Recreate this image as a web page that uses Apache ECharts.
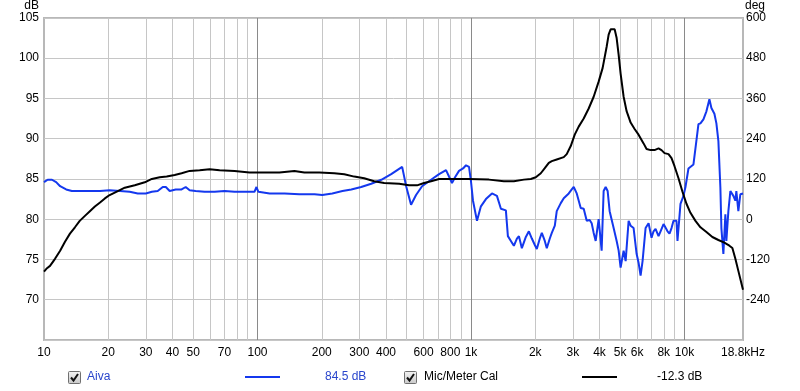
<!DOCTYPE html>
<html><head><meta charset="utf-8">
<script src="https://cdn.jsdelivr.net/npm/echarts@6/dist/echarts.min.js"></script>
<style>html,body{margin:0;padding:0;background:#fff}#c{width:800px;height:391px}</style>
</head><body><div id="c"></div>
<script>
// Aiva SPL response (dB, left axis)
const aivaFreq = [10,10.4,10.9,11.4,11.9,12.7,13.5,14.7,16.4,18.3,20.3,22.7,25.2,27.5,30,32,34.1,36,37.2,38.8,41.4,44.1,46.1,48.1,51.3,56.5,63,70.1,78.1,87,96.8,98.9,101,114,134,157,185,201,224,250,275,306,341,380,423,476,497,524,553,590,650,709,764,789,815,842,879,918,948,979,1000,1022,1067,1113,1175,1254,1323,1381,1457,1489,1538,1588,1641,1677,1731,1807,1867,1928,1991,2034,2101,2147,2217,2265,2340,2391,2470,2522,2634,2720,2871,2965,3029,3129,3266,3373,3485,3597,3676,3756,3838,3963,4093,4182,4274,4367,4462,4658,4812,4917,5022,5188,5302,5475,5595,5777,5967,6095,6230,6364,6574,6790,7013,7164,7320,7560,7726,7980,8153,8331,8510,8697,8885,9175,9275,9579,9893,10108,10440,10666,11017,11257,11627,11881,12268,12671,12946,13086,13371,13810,14110,14418,14731,14891,15215,15546,15714,16056,16406,16945,17314,17498,17880,18270,18800];
const aivaDb = [84.6,84.9,84.9,84.6,84.1,83.7,83.5,83.5,83.5,83.5,83.6,83.5,83.4,83.2,83.2,83.4,83.5,84.0,84.0,83.5,83.7,83.7,84.0,83.6,83.5,83.4,83.4,83.5,83.4,83.4,83.4,84.0,83.4,83.2,83.2,83.1,83.1,83.0,83.2,83.5,83.7,84.0,84.4,84.9,85.6,86.5,84.1,81.8,83.0,84.1,84.9,85.6,86.1,85.3,84.5,85.2,86.0,86.3,86.7,86.5,84.7,82.3,79.8,81.6,82.5,83.2,82.9,81.3,81.1,77.9,77.3,76.7,77.6,77.9,76.4,77.8,78.5,77.6,76.8,76.3,77.6,78.3,77.3,76.4,77.6,78.3,79.2,81.0,82.0,82.6,83.2,83.7,84.0,83.2,81.4,81.3,79.8,79.9,79.5,78.3,77.3,80.0,76.1,83.5,84.0,83.5,81.0,78.9,77.3,76.1,74.0,76.1,74.8,79.8,79.2,78.9,75.7,74.6,73.0,74.8,78.9,79.5,77.7,78.5,78.8,77.9,78.5,79.4,79.4,78.5,78.2,78.9,79.8,79.8,77.3,81.9,82.9,84.0,86.3,86.5,86.8,88.8,91.8,91.9,92.4,93.4,94.4,94.9,93.8,93.1,91.9,89.7,83.9,78.9,75.7,80.6,77.3,81.0,83.5,82.9,82.3,83.5,81.0,83.1,83.2];
// Mic/Meter Cal phase (deg, right axis)
const calFreq = [10,10.33,10.67,11.26,11.9,12.54,13.23,13.96,14.7,15.55,16.4,17.31,18.3,19.28,20.3,22.17,23.9,26.62,29.65,32,34.84,37.56,40.94,44.1,48.1,53.58,59.68,66.45,78.1,91.75,107.8,126.7,148.9,165.8,194.9,229,255,284,316,352,392,461,513,559,603,650,709,833,979,1214,1426,1588,1769,1907,2012,2124,2217,2315,2391,2522,2720,2809,2933,3062,3196,3373,3559,3756,3963,4138,4320,4414,4510,4709,4812,4917,5022,5188,5358,5595,5840,6095,6433,6645,6937,7241,7560,7807,8064,8418,8697,8982,9376,9787,10216,10666,11257,11881,12671,13513,14418,15379,16232,16763,17314,17880,18800];
const calDeg = [-156,-146,-139,-118,-94,-67,-43,-24,-5,10,24,38,50,62,72,84,94,101,110,120,125,127,132,137,144,146,149,146,144,139,139,139,144,139,139,137,134,127,122,113,108,106,101,101,108,113,120,120,120,118,113,113,118,120,125,137,152,168,173,178,185,194,218,252,276,300,330,365,410,451,514,550,566,566,540,490,434,365,322,288,269,252,226,209,206,206,211,206,197,194,182,158,122,82,46,19,-5,-24,-38,-53,-62,-70,-79,-86,-118,-154,-210];

const xLabelValues = [10,20,30,40,50,70,100,200,300,400,600,800,1000,2000,3000,4000,5000,6000,8000,10000,18800];
const xGridValues = [20,30,40,50,60,70,80,90,100,200,300,400,500,600,700,800,900,1000,2000,3000,4000,5000,6000,7000,8000,9000,10000];
const decadeValues = [100,1000,10000];
const legendNames = ['Aiva','Mic/Meter Cal'];
const legendValues = ['84.5 dB','-12.3 dB'];

const BLUE = '#1438ee';
const FONT = 'Liberation Sans, Arial, sans-serif';

function fmtFreq(v){
  if (Math.abs(v-18800) < 1) return '18.8kHz';
  if (v >= 1000) return (Math.round(v/100)/10) + 'k';
  return String(Math.round(v));
}

function checkbox(x, y){
  return [
    {type:'rect', shape:{x:x+0.5,y:y+0.5,width:12,height:12,r:1},
     style:{fill:new echarts.graphic.LinearGradient(0,0,0,1,[{offset:0,color:'#f4f4f4'},{offset:1,color:'#c8c8c8'}]), stroke:'#707070', lineWidth:1}},
    {type:'polyline', shape:{points:[[x+3,y+6.5],[x+5.5,y+9.5],[x+10,y+3]]}, style:{stroke:'#111', lineWidth:2, fill:null}}
  ];
}

const chart = echarts.init(document.getElementById('c'), null, {renderer:'canvas'});
const graphics = [].concat(
  checkbox(68, 371),
  [{type:'text', x:87, y:377, style:{text:legendNames[0], fill:'#2a46cc', font:'12px '+FONT, verticalAlign:'middle'}},
   {type:'line', shape:{x1:245,y1:377,x2:280,y2:377}, style:{stroke:BLUE, lineWidth:2}},
   {type:'text', x:325, y:377, style:{text:legendValues[0], fill:'#2a46cc', font:'12px '+FONT, verticalAlign:'middle'}}],
  checkbox(404, 371),
  [{type:'text', x:424, y:377, style:{text:legendNames[1], fill:'#000', font:'12px '+FONT, verticalAlign:'middle'}},
   {type:'line', shape:{x1:582,y1:377,x2:617,y2:377}, style:{stroke:'#000', lineWidth:2}},
   {type:'text', x:657, y:377, style:{text:legendValues[1], fill:'#000', font:'12px '+FONT, verticalAlign:'middle'}}]
);

chart.setOption({
  animation:false,
  backgroundColor:'#fff',
  textStyle:{fontFamily:FONT},
  grid:{left:44, right:57, top:16, bottom:51, show:true, borderColor:'#b8b8b8', borderWidth:2, backgroundColor:'#fff'},
  xAxis:{
    type:'log', logBase:10, min:10, max:18800,
    axisLine:{show:false},
    axisTick:{show:false, customValues:xGridValues},
    splitLine:{show:true, lineStyle:{color:'#c6c6c6', width:1}},
    axisLabel:{customValues:xLabelValues, formatter:fmtFreq, color:'#000', fontSize:12, margin:7, fontFamily:FONT}
  },
  yAxis:[
    {type:'value', min:65, max:105, interval:5, position:'left',
     name:'dB', nameLocation:'end', nameGap:9,
     nameTextStyle:{color:'#000', fontSize:12, align:'right', verticalAlign:'middle', padding:[0,5,0,0], fontFamily:FONT},
     axisLine:{show:false}, axisTick:{show:false},
     axisLabel:{showMinLabel:false, color:'#000', fontSize:12, margin:5, fontFamily:FONT},
     splitLine:{show:true, lineStyle:{color:'#c6c6c6', width:1}}},
    {type:'value', min:-360, max:600, interval:120, position:'right',
     name:'deg', nameLocation:'end', nameGap:9,
     nameTextStyle:{color:'#000', fontSize:12, align:'left', verticalAlign:'middle', padding:[0,0,0,2], fontFamily:FONT},
     axisLine:{show:false}, axisTick:{show:false},
     axisLabel:{showMinLabel:false, color:'#000', fontSize:12, margin:3, fontFamily:FONT},
     splitLine:{show:false}}
  ],
  series:[
    {name:legendNames[0], type:'line', yAxisIndex:0, showSymbol:false, symbol:'none',
     data:aivaFreq.map((f,i)=>[f, aivaDb[i]]),
     lineStyle:{color:BLUE, width:2}, itemStyle:{color:BLUE}, z:3,
     markLine:{silent:true, symbol:'none', z:1, animation:false, label:{show:false},
       lineStyle:{color:'#8a8a8a', width:1, type:'solid'},
       data:decadeValues.map(v=>({xAxis:v}))}},
    {name:legendNames[1], type:'line', yAxisIndex:1, showSymbol:false, symbol:'none',
     data:calFreq.map((f,i)=>[f, calDeg[i]]),
     lineStyle:{color:'#000', width:2}, itemStyle:{color:'#000'}, z:4}
  ],
  graphic:graphics
});
</script>
</body></html>
